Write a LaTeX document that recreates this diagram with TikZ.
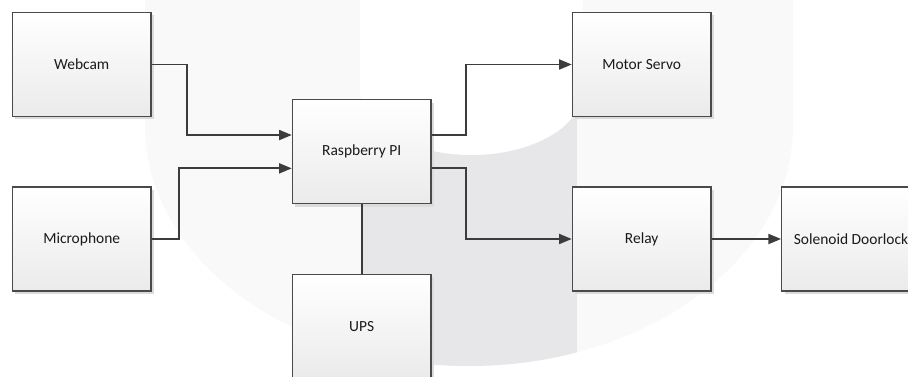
\documentclass[tikz,border=0pt]{standalone}
\usepackage{fontspec}
\setmainfont{Carlito}
\usetikzlibrary{arrows.meta,shadows}
\definecolor{wmlight}{HTML}{F9F9F9}
\definecolor{wmdark}{HTML}{E7E7E9}
\definecolor{edge}{HTML}{4A4A4A}
\definecolor{wire}{HTML}{3C3C3C}
\definecolor{txt}{HTML}{1A1A1A}
\tikzset{
  block/.style={draw=edge, line width=0.9pt, top color=white, bottom color=black!8,
    minimum width=104pt, minimum height=78pt, inner sep=0pt, text=txt,
    font=\fontsize{11.6}{13}\selectfont,
    drop shadow={shadow xshift=2.2pt, shadow yshift=-2.2pt, fill=black!14, opacity=1}},
  wireline/.style={draw=wire, line width=1.4pt},
  arrowline/.style={wireline, -{Triangle[length=9.5pt,width=7.5pt]}}
}
\begin{document}
\begin{tikzpicture}[x=0.75pt,y=-0.75pt]
\useasboundingbox (0,0) rectangle (908,377);
\clip (0,0) rectangle (908,377);
% watermark
\fill[wmlight] (145,-10) -- (145,126) arc[start angle=180,end angle=360,x radius=243pt,y radius=180pt] -- (793,-10) -- cycle;
\begin{scope}
\clip (145,-10) -- (145,126) arc[start angle=180,end angle=360,x radius=243pt,y radius=180pt] -- (793,-10) -- cycle;
\fill[wmdark] (363,-10) rectangle (577,400);
\end{scope}
\fill[white] (360,-10) -- (360,90) arc[start angle=180,end angle=360,x radius=83.6pt,y radius=48.75pt] -- (583,-10) -- cycle;
% nodes
\node[block] (webcam) at (81.7,64.5) {Webcam};
\node[block] (mic) at (81.7,239) {Microphone};
\node[block] (rpi) at (361.7,151.7) {Raspberry PI};
\node[block] (ups) at (361.7,326.5) {UPS};
\node[block] (motor) at (641.7,64.5) {Motor Servo};
\node[block] (relay) at (641.7,239) {Relay};
\node[block] (sol) at (851,239) {Solenoid Doorlock};
% connectors
\draw[arrowline] (webcam.east) -- ++(35,0) |- ([yshift=12.5pt]rpi.west);
\draw[arrowline] (mic.east) -- ++(27,0) |- ([yshift=-12.5pt]rpi.west);
\draw[arrowline] ([yshift=12.5pt]rpi.east) -- ++(34,0) |- (motor.west);
\draw[arrowline] ([yshift=-12.5pt]rpi.east) -- ++(34,0) |- (relay.west);
\draw[wireline] (rpi.south) -- (ups.north);
\draw[arrowline] (relay.east) -- (sol.west);
\end{tikzpicture}
\end{document}
